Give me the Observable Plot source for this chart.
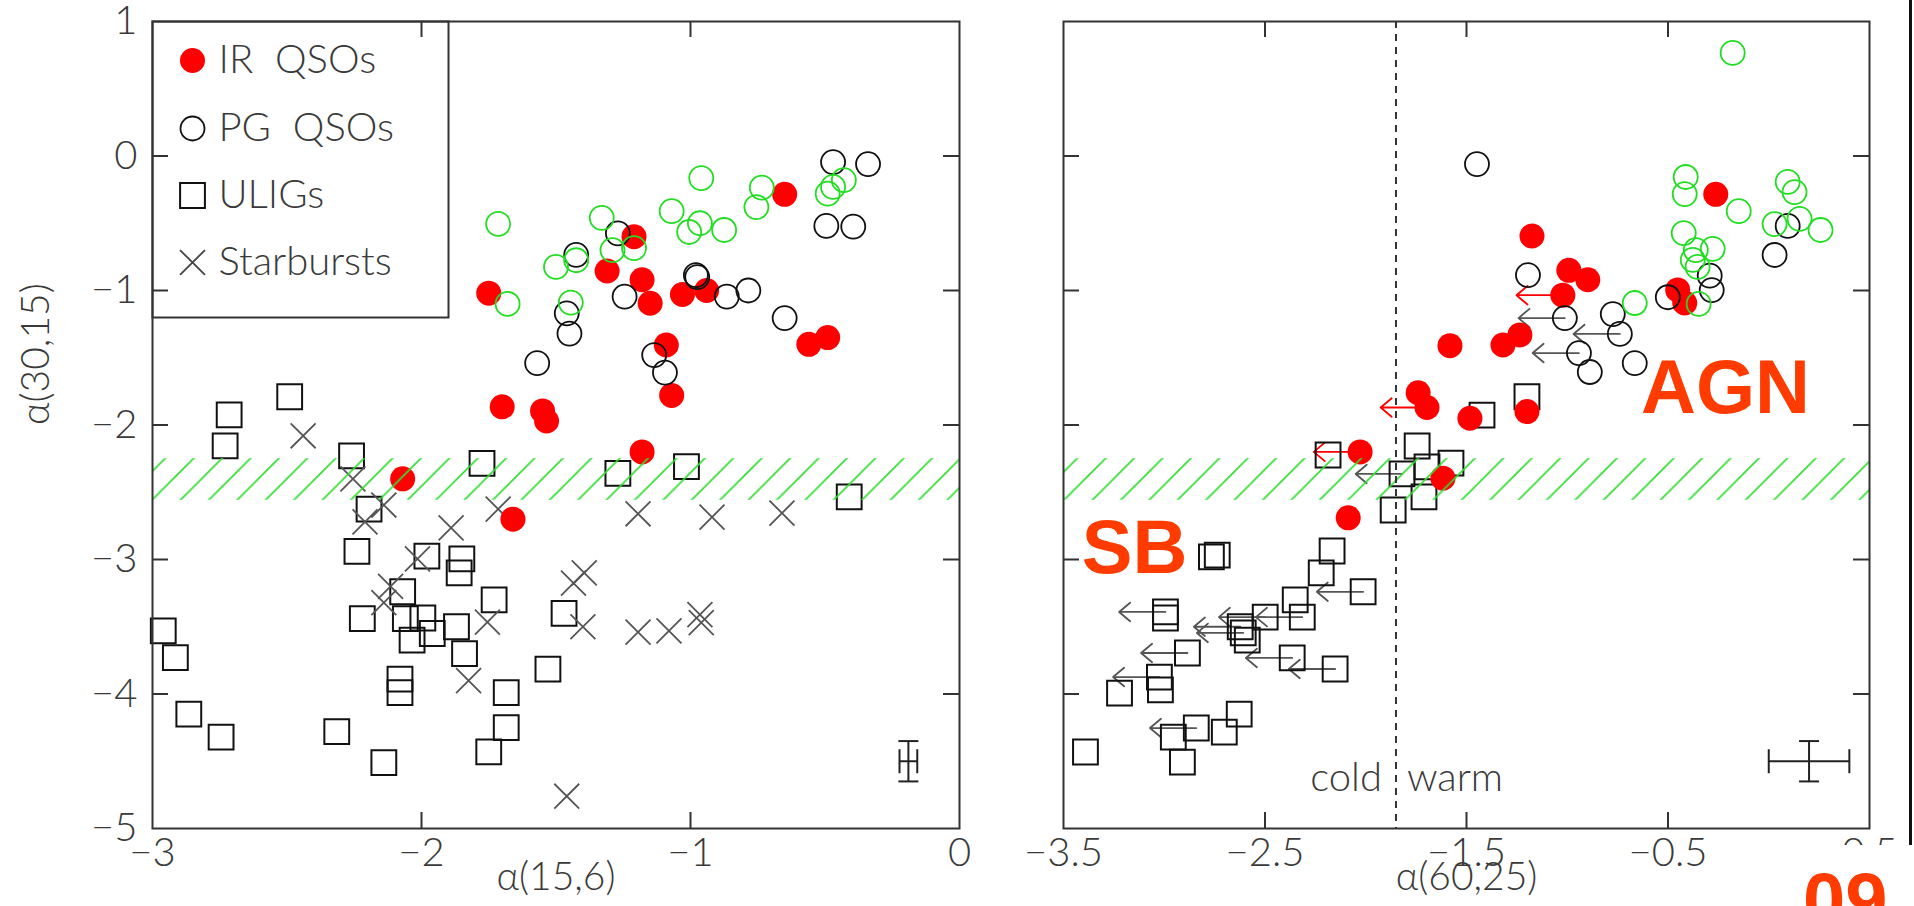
<!DOCTYPE html>
<html><head><meta charset="utf-8">
<script src="https://cdn.jsdelivr.net/npm/d3@7"></script>
<script src="https://cdn.jsdelivr.net/npm/@observablehq/plot@0.6"></script>
<style>
html,body{margin:0;padding:0;background:#fff;}
body{width:1914px;height:906px;overflow:hidden;position:relative;}
#left{position:absolute;left:0;top:0;}
#right{position:absolute;left:1000px;top:0;}
#overlay{position:absolute;left:0;top:0;pointer-events:none;}
</style>
</head><body>
<div id="left"></div><div id="right"></div>
<script>
// ---------- axes / ticks ----------
const yDomain = [-5, 1];
const xDomainL = [-3, 0];
const xDomainR = [-3.5, 0.5];
const xTickLabelsL = [-3, -2, -1, 0];
const xTicksL = [-2, -1];
const xTickLabelsR = [-3.5, -2.5, -1.5, -0.5, 0.5];
const xTicksR = [-2.5, -1.5, -0.5];
const yTickLabels = [1, 0, -1, -2, -3, -4, -5];
const yTicks = [0, -1, -2, -3, -4];
const hatchBand = [[-2.25, -2.56]];
const coldWarmX = -1.85;
const legendItems = ["IR\u00a0\u00a0QSOs", "PG\u00a0\u00a0QSOs", "ULIGs", "Starbursts"];
// error bars: [x, y, xerr, yerr]
const errLeft = [[-0.19, -4.5, 0.033, 0.15]];
const errRight = [[0.2, -4.5, 0.2, 0.15]];
const limitLength = 0.23; // length of upper-limit arrows in alpha(60,25)

// ---------- left panel: alpha(15,6) vs alpha(30,15) ----------
const irQsoLeft = [[-1.75,-1.02],[-1.21,-0.6],[-1.31,-0.855],[-1.18,-0.92],[-1.15,-1.095],[-1.03,-1.03],[-0.94,-1.0],[-0.65,-0.285],[-0.56,-1.4],[-0.49,-1.35],[-1.09,-1.405],[-1.07,-1.78],[-1.70,-1.865],[-1.55,-1.895],[-1.535,-1.97],[-1.18,-2.2],[-1.66,-2.7],[-2.07,-2.4]];
const pgQsoLeft = [[-0.47,-0.045],[-0.34,-0.06],[-0.495,-0.52],[-0.395,-0.525],[-1.27,-0.575],[-1.425,-0.735],[-1.245,-1.045],[-1.46,-1.17],[-1.45,-1.32],[-1.57,-1.54],[-0.98,-0.885],[-0.975,-0.9],[-0.865,-1.045],[-0.785,-1.0],[-0.65,-1.205],[-1.135,-1.48],[-1.095,-1.61]];
const pgQsoGreenLeft = [[-1.715,-0.505],[-1.68,-1.1],[-1.33,-0.46],[-1.5,-0.825],[-1.425,-0.775],[-1.445,-1.09],[-1.29,-0.7],[-1.21,-0.685],[-1.07,-0.41],[-0.96,-0.165],[-1.005,-0.565],[-0.965,-0.5],[-0.875,-0.55],[-0.735,-0.235],[-0.755,-0.38],[-0.49,-0.28],[-0.47,-0.23],[-0.43,-0.18]];
const uligLeft = [[-2.715,-1.925],[-2.73,-2.155],[-2.49,-1.79],[-2.26,-2.23],[-2.195,-2.625],[-2.24,-2.94],[-1.98,-2.975],[-1.85,-2.995],[-1.86,-3.1],[-2.07,-3.24],[-2.22,-3.44],[-2.06,-3.44],[-1.995,-3.435],[-2.035,-3.6],[-1.96,-3.55],[-1.87,-3.5],[-1.84,-3.7],[-2.08,-3.89],[-2.08,-3.99],[-2.96,-3.53],[-2.915,-3.73],[-2.865,-4.15],[-2.745,-4.32],[-2.315,-4.28],[-2.14,-4.51],[-1.775,-2.285],[-1.27,-2.36],[-1.015,-2.31],[-0.41,-2.535],[-1.73,-3.3],[-1.47,-3.4],[-1.53,-3.815],[-1.685,-3.99],[-1.685,-4.25],[-1.75,-4.43]];
const starburstLeft = [[-2.44,-2.08],[-2.255,-2.4],[-2.14,-2.595],[-2.21,-2.72],[-1.89,-2.765],[-2.015,-2.995],[-2.115,-3.2],[-2.14,-3.32],[-1.825,-3.9],[-1.715,-2.625],[-1.195,-2.66],[-0.92,-2.685],[-0.66,-2.655],[-1.395,-3.1],[-1.435,-3.175],[-1.755,-3.465],[-1.4,-3.5],[-1.195,-3.54],[-1.08,-3.53],[-0.965,-3.41],[-0.96,-3.47],[-1.46,-4.76]];

// ---------- right panel: alpha(60,25) vs alpha(30,15); third value 1 = upper limit ----------
const irQsoRight = [[-0.263,-0.285,0],[-1.175,-0.595,0],[-0.992,-0.85,0],[-0.898,-0.92,0],[-1.022,-1.035,1],[-0.452,-0.996,0],[-0.417,-1.093,0],[-1.319,-1.405,0],[-1.235,-1.33,0],[-1.582,-1.41,0],[-1.74,-1.76,0],[-1.696,-1.87,1],[-1.483,-1.95,0],[-1.2,-1.9,0],[-2.028,-2.2,1],[-2.087,-2.69,0],[-1.617,-2.395,0]];
const pgQsoRight = [[-1.448,-0.06,0],[0.094,-0.52,0],[0.029,-0.736,0],[-0.293,-0.89,0],[-0.283,-0.997,0],[-0.501,-1.05,0],[-1.195,-0.885,0],[-1.012,-1.205,1],[-0.774,-1.175,0],[-0.739,-1.323,1],[-0.942,-1.465,1],[-0.888,-1.606,0],[-0.665,-1.54,0]];
const pgQsoGreenRight = [[-0.179,0.766],[-0.412,-0.156],[-0.417,-0.283],[-0.149,-0.41],[-0.422,-0.573],[-0.362,-0.7],[-0.278,-0.69],[-0.377,-0.773],[-0.353,-0.825],[-0.348,-1.1],[-0.665,-1.093],[0.094,-0.193],[0.128,-0.268],[0.029,-0.506],[0.153,-0.468],[0.257,-0.55]];
const uligRight = [[-1.423,-1.926,0],[-1.2,-1.79,0],[-2.187,-2.223,0],[-1.745,-2.156,0],[-1.82,-2.364,1],[-1.696,-2.312,0],[-1.577,-2.283,0],[-1.711,-2.535,0],[-1.864,-2.632,0],[-2.167,-2.937,0],[-2.221,-3.1,0],[-2.013,-3.24,1],[-2.35,-3.3,0],[-2.315,-3.428,1],[-2.499,-3.428,1],[-2.623,-3.5,1],[-2.608,-3.546,1],[-2.588,-3.599,0],[-2.766,-2.981,0],[-2.737,-2.967,0],[-2.994,-3.39,1],[-2.994,-3.435,0],[-2.885,-3.695,1],[-2.365,-3.732,1],[-2.152,-3.814,1],[-3.024,-3.874,1],[-3.019,-3.97,0],[-3.222,-3.993,0],[-2.628,-4.149,0],[-2.702,-4.283,0],[-2.841,-4.253,1],[-2.955,-4.32,0],[-2.91,-4.506,0],[-3.391,-4.431,0]];

// ---------- drawing ----------
const H = 906, mT = 21, mB = 78;
const FONT = "Lato, 'DejaVu Sans', sans-serif";
const INK = "#3a3a3a";
const RED = "#ff0000", GREEN = "#22dd22", BLACK = "#111";
const fmt = d => (d < 0 ? "\u2212" : "") + Math.abs(d);
const HATCH_KEY = "#010203";
const BIG = {fontSize: 76, fontWeight: "bold", fontFamily: "'Liberation Sans', Arial, sans-serif", fill: "#ff3b00", textAnchor: "middle", lineAnchor: "middle"};

function panel(o) {
  const innerW = o.width - o.marginLeft - o.marginRight;
  const innerH = H - mT - mB;
  const kx = innerW / (o.xDomain[1] - o.xDomain[0]);
  const ky = innerH / (yDomain[1] - yDomain[0]);
  const T = 16;
  const X = d => d[0], Y = d => d[1];
  const lim = o.limits || [];
  const marks = [];
  for (const [data, color] of lim) {
    marks.push(Plot.arrow(data.filter(d => d[2] === 1), {
      x1: X, y1: Y, x2: d => d[0] - limitLength, y2: Y,
      stroke: color, strokeWidth: 1.8, headLength: 12, headAngle: 80
    }));
  }
  marks.push(Plot.dot(o.ulig, {x: X, y: Y, symbol: "square", r: 14, fill: "none", stroke: BLACK, strokeWidth: 2}));
  if (o.sb) marks.push(Plot.dot(o.sb, {x: X, y: Y, symbol: "times", r: 11.4, stroke: "#555", strokeWidth: 1.8}));
  marks.push(
    Plot.dot(o.ir, {x: X, y: Y, r: 12.5, fill: RED, stroke: "none"}),
    Plot.dot(o.pg, {x: X, y: Y, r: 12, fill: "none", stroke: BLACK, strokeWidth: 1.8}),
    Plot.dot(o.green, {x: X, y: Y, r: 12, fill: "none", stroke: GREEN, strokeWidth: 1.8})
  );
  const e = o.err;
  const L = {stroke: "#222", strokeWidth: 2};
  marks.push(
    Plot.link(e, {x1: d => d[0] - d[2], x2: d => d[0] + d[2], y1: Y, y2: Y, ...L}),
    Plot.link(e, {x1: X, x2: X, y1: d => d[1] - d[3], y2: d => d[1] + d[3], ...L}),
    Plot.link(e, {x1: d => d[0] - d[2], x2: d => d[0] - d[2], y1: d => d[1] - 12 / ky, y2: d => d[1] + 12 / ky, ...L}),
    Plot.link(e, {x1: d => d[0] + d[2], x2: d => d[0] + d[2], y1: d => d[1] - 12 / ky, y2: d => d[1] + 12 / ky, ...L}),
    Plot.link(e, {x1: d => d[0] - 10 / kx, x2: d => d[0] + 10 / kx, y1: d => d[1] - d[3], y2: d => d[1] - d[3], ...L}),
    Plot.link(e, {x1: d => d[0] - 10 / kx, x2: d => d[0] + 10 / kx, y1: d => d[1] + d[3], y2: d => d[1] + d[3], ...L})
  );
  marks.push(Plot.rect(hatchBand, {x1: o.xDomain[0], x2: o.xDomain[1], y1: d => d[0], y2: d => d[1], fill: HATCH_KEY}));
  const tk = {stroke: "#333", strokeWidth: 2};
  marks.push(
    Plot.tickX(o.xTicks, {x: d => d, insetTop: innerH - T, ...tk}),
    Plot.tickX(o.xTicks, {x: d => d, insetBottom: innerH - T, ...tk}),
    Plot.tickY(yTicks, {y: d => d, insetRight: innerW - T, ...tk}),
    Plot.tickY(yTicks, {y: d => d, insetLeft: innerW - T, ...tk}),
    Plot.frame({stroke: "#333", strokeWidth: 2})
  );
  const txt = {fontFamily: FONT, fontWeight: 300, fill: INK};
  marks.push(
    Plot.axisX(o.xTickLabels, {tickSize: 0, tickPadding: 9, tickFormat: fmt, fontSize: 40, label: null, ...txt}),
    Plot.text([o.xLabel], {frameAnchor: "bottom", dy: 61, fontSize: 39, ...txt})
  );
  if (o.yLabels) {
    marks.push(
      Plot.axisY(yTickLabels, {tickSize: 0, tickPadding: 15, tickFormat: fmt, fontSize: 40, label: null, ...txt}),
      Plot.text([o.yLabel], {frameAnchor: "left", dx: -116, rotate: -90, fontSize: 39, ...txt})
    );
  } else {
    marks.push(Plot.axisY([], {label: null}));
  }
  if (o.extra) marks.push(...o.extra(txt));
  const svg = Plot.plot({
    width: o.width, height: H,
    marginLeft: o.marginLeft, marginRight: o.marginRight, marginTop: mT, marginBottom: mB,
    x: {domain: o.xDomain},
    y: {domain: yDomain},
    style: {background: "transparent", overflow: "visible"},
    marks
  });
  const s = d3.select(svg);
  s.insert("defs", ":first-child").html(
    `<pattern id="${o.id}" patternUnits="userSpaceOnUse" x="${o.hatchPhase}" y="0" width="28.4" height="28.4">` +
    `<path d="M0,28.4L28.4,0M-7,7L7,-7M21.4,35.4L35.4,21.4" stroke="#33dd33" stroke-width="1.7" fill="none"/></pattern>`);
  s.selectAll(`[fill="${HATCH_KEY}"]`).attr("fill", `url(#${o.id})`);
  return svg;
}

const legendRows = [39, 107, 174, 241];
const leftSvg = panel({
  id: "hatchL", hatchPhase: 27.2,
  width: 1000, marginLeft: 152, marginRight: 41,
  xDomain: xDomainL, xTicks: xTicksL, xTickLabels: xTickLabelsL,
  xLabel: "\u03b1(15,6)", yLabel: "\u03b1(30,15)", yLabels: true,
  ir: irQsoLeft, pg: pgQsoLeft, green: pgQsoGreenLeft, ulig: uligLeft, sb: starburstLeft,
  err: errLeft,
  extra: txt => [
    Plot.frame({insetRight: 807 - 296, insetBottom: 807 - 296, stroke: "#333", strokeWidth: 2}),
    Plot.dot([0], {frameAnchor: "top-left", dx: 40, dy: legendRows[0], r: 12.5, fill: RED}),
    Plot.dot([0], {frameAnchor: "top-left", dx: 40, dy: legendRows[1], r: 12, fill: "none", stroke: BLACK, strokeWidth: 1.8}),
    Plot.dot([0], {frameAnchor: "top-left", dx: 40, dy: legendRows[2], symbol: "square", r: 14, fill: "none", stroke: BLACK, strokeWidth: 2}),
    Plot.dot([0], {frameAnchor: "top-left", dx: 40, dy: legendRows[3], symbol: "times", r: 11.4, stroke: "#444", strokeWidth: 1.8}),
    ...legendItems.map((label, i) => Plot.text([label], {frameAnchor: "top-left", dx: 66, dy: legendRows[i], textAnchor: "start", lineAnchor: "middle", fontSize: 40, ...txt}))
  ]
});

const rightSvg = panel({
  id: "hatchR", hatchPhase: 24.4,
  width: 914, marginLeft: 63, marginRight: 45,
  xDomain: xDomainR, xTicks: xTicksR, xTickLabels: xTickLabelsR,
  xLabel: "\u03b1(60,25)", yLabels: false,
  ir: irQsoRight, pg: pgQsoRight, green: pgQsoGreenRight, ulig: uligRight,
  limits: [[uligRight, "#555"], [pgQsoRight, "#555"], [irQsoRight, RED]],
  err: errRight,
  extra: txt => [
    Plot.ruleX([coldWarmX], {stroke: "#333", strokeWidth: 2, strokeDasharray: "7,6"}),
    Plot.text(["cold"], {x: coldWarmX, frameAnchor: "bottom", dy: -50, dx: -14, textAnchor: "end", lineAnchor: "middle", fontSize: 40, ...txt}),
    Plot.text(["warm"], {x: coldWarmX, frameAnchor: "bottom", dy: -50, dx: 11, textAnchor: "start", lineAnchor: "middle", fontSize: 40, ...txt}),
    Plot.text(["AGN"], {frameAnchor: "top-left", dx: 662, dy: 367, ...BIG}),
    Plot.text(["SB"], {frameAnchor: "top-left", dx: 71, dy: 527, ...BIG})
  ]
});

document.getElementById("left").appendChild(leftSvg);
document.getElementById("right").appendChild(rightSvg);

// slide overlay: page border line, white cover, slide number
const ov = d3.select("body").append("svg").attr("id", "overlay").attr("width", 1914).attr("height", 906);
ov.append("rect").attr("x", 1790).attr("y", 845).attr("width", 124).attr("height", 61).attr("fill", "white");
ov.append("rect").attr("x", 1909).attr("y", 0).attr("width", 3).attr("height", 845).attr("fill", "#111");
ov.append("text").attr("x", 1803).attr("y", 926).attr("font-family", "'Liberation Sans', Arial, sans-serif")
  .attr("font-weight", "bold").attr("font-size", 76).attr("fill", "#ff3b00").text("09");
</script>
</body></html>
